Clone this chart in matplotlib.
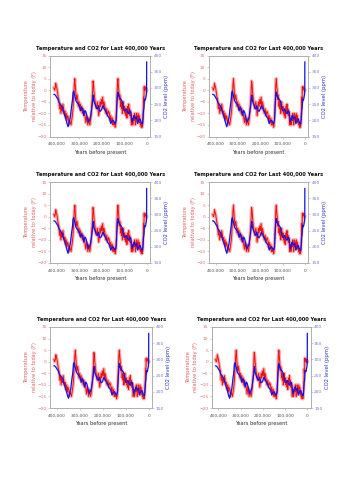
import matplotlib
matplotlib.use("Agg")
import matplotlib.pyplot as plt
from matplotlib.ticker import FuncFormatter

# Vostok-style temperature record (years before present, deg F relative to today)
temp_years = [0, 2000, 4000, 6000, 8000, 10000, 11000, 12000, 13000, 14000,
              15000, 17000, 18000, 20000, 22000, 24000, 26000, 28000, 30000, 32000,
              34000, 36000, 38000, 40000, 42000, 44000, 46000, 48000, 50000, 52000,
              54000, 56000, 58000, 60000, 62000, 64000, 66000, 68000, 70000, 72000,
              74000, 76000, 78000, 80000, 82000, 84000, 86000, 88000, 90000, 92000,
              94000, 96000, 98000, 100000, 102000, 104000, 106000, 108000, 110000, 112000,
              114000, 116000, 118000, 120000, 122000, 124000, 126000, 128000, 130000, 132000,
              134000, 136000, 138000, 140000, 142000, 145000, 148000, 150000, 153000, 156000,
              160000, 163000, 166000, 170000, 174000, 178000, 182000, 186000, 190000, 193000,
              196000, 199000, 202000, 205000, 208000, 211000, 214000, 217000, 220000, 224000,
              228000, 232000, 235000, 237000, 239000, 241000, 244000, 247000, 250000, 253000,
              256000, 259000, 262000, 265000, 268000, 271000, 274000, 277000, 280000, 283000,
              286000, 289000, 292000, 295000, 298000, 301000, 304000, 307000, 310000, 313000,
              316000, 318000, 320000, 322000, 325000, 328000, 331000, 334000, 337000, 340000,
              343000, 346000, 349000, 352000, 355000, 358000, 361000, 364000, 367000, 370000,
              373000, 376000, 379000, 382000, 385000, 388000, 391000, 394000, 397000, 400000,
              403000, 405000, 407000, 410000, 413000]
temp_f = [0, -0.5, 1, 0.5, 1.5, 0, 1.5, -3, -5, -3,
          -8, -12, -15, -16, -15, -16, -14, -15, -13, -14,
          -11, -13, -10, -12, -14, -11, -10, -13, -15, -12,
          -10, -13, -11, -14, -15, -12, -14, -15, -12, -9,
          -11, -8, -10, -6, -9, -7, -10, -12, -9, -11,
          -8, -10, -7, -9, -8, -5, -7, -10, -6, -8,
          -5, -7, -3, -2, -4, 0, 2, 5, 3, -2,
          -8, -12, -15, -16, -14, -15, -13, -15, -12, -14,
          -11, -13, -10, -9, -11, -8, -10, -7, -5, -8,
          -3, -6, -4, -7, -5, -9, -11, -7, -5, -8,
          -6, -3, 0, 3, 4, -1, -6, -10, -13, -15,
          -14, -12, -15, -13, -11, -14, -12, -9, -11, -8,
          -10, -7, -9, -6, -8, -5, -7, -4, -2, -4,
          -1, 2, 5, 3, -2, -8, -11, -13, -15, -14,
          -13, -15, -12, -11, -13, -10, -12, -9, -10, -8,
          -6, -9, -7, -10, -6, -8, -4, -3, -1, 1,
          2, 3, 1, 0, 1]

# CO2 record (years before present, ppm)
co2_years = [0, 200, 1000, 2000, 5000, 7000, 10000, 11000, 12000, 14000,
             16000, 18000, 20000, 25000, 30000, 35000, 40000, 45000, 50000, 55000,
             60000, 65000, 70000, 75000, 80000, 85000, 90000, 95000, 100000, 105000,
             110000, 115000, 120000, 125000, 128000, 130000, 133000, 136000, 140000, 145000,
             150000, 155000, 160000, 165000, 170000, 175000, 180000, 185000, 190000, 195000,
             200000, 205000, 210000, 215000, 220000, 225000, 230000, 235000, 238000, 240000,
             243000, 247000, 250000, 255000, 260000, 265000, 270000, 275000, 280000, 285000,
             290000, 295000, 300000, 305000, 310000, 315000, 320000, 325000, 328000, 330000,
             335000, 340000, 345000, 350000, 355000, 360000, 365000, 370000, 375000, 380000,
             385000, 390000, 395000, 400000, 405000, 410000, 413000]
co2_ppm = [380, 290, 280, 277, 265, 262, 265, 250, 238, 230,
           205, 190, 188, 195, 205, 200, 190, 210, 205, 215,
           205, 195, 225, 230, 220, 225, 235, 230, 230, 245,
           260, 265, 270, 275, 287, 280, 240, 200, 190, 195,
           200, 198, 190, 205, 210, 215, 225, 230, 240, 245,
           235, 228, 230, 245, 235, 240, 250, 260, 278, 265,
           245, 225, 210, 200, 195, 210, 225, 230, 215, 235,
           240, 230, 245, 250, 255, 260, 275, 290, 285, 265,
           240, 210, 195, 180, 190, 205, 215, 225, 240, 245,
           250, 255, 265, 270, 276, 280, 280]

x_ticks = [400000, 300000, 200000, 100000, 0]

# axes rectangles [left, bottom, width, height] in figure fraction
panel_rects = [
    [0.142, 0.727, 0.283, 0.162], [0.592, 0.727, 0.281, 0.162],
    [0.142, 0.474, 0.283, 0.162], [0.592, 0.474, 0.281, 0.162],
    [0.142, 0.184, 0.289, 0.162], [0.600, 0.184, 0.280, 0.162],
]

TEMP_COLOR = "#ee1111"
BAND_COLOR = "#f7b0b0"
CO2_COLOR = "#1111ee"
GRID_GRAY = "#aaaaaa"


def plot_panel(fig, rect):
    ax = fig.add_axes(rect)
    ax.plot(temp_years, temp_f, color=BAND_COLOR, lw=2.4, zorder=1)
    ax.plot(temp_years, temp_f, color=TEMP_COLOR, lw=0.7, zorder=2)
    ax.set_xlim(430000, -15000)
    ax.set_ylim(-20, 15)
    ax.set_yticks(range(-20, 16, 5))
    ax.set_xticks(x_ticks)
    ax.xaxis.set_major_formatter(FuncFormatter(lambda v, p: f"{int(v):,}"))
    ax.tick_params(axis="y", colors=GRID_GRAY, labelcolor="#e07070", labelsize=3.2,
                   length=1.5, width=0.4, pad=1)
    ax.tick_params(axis="x", colors=GRID_GRAY, labelcolor="#555555", labelsize=3.2,
                   length=1.5, width=0.4, pad=2.5)
    ax.set_ylabel("Temperature\nrelative to today (F)", color="#e06060", fontsize=3.6,
                  labelpad=0.5, linespacing=1.7)
    ax.set_xlabel("Years before present", fontsize=3.7, color="#333333", labelpad=2.5)
    ax.set_title("Temperature and CO2 for Last 400,000 Years", fontsize=3.7,
                 fontweight="semibold", color="#111111", pad=4)
    for s in ax.spines.values():
        s.set_color(GRID_GRAY)
        s.set_linewidth(0.5)

    ax2 = ax.twinx()
    ax2.plot(co2_years, co2_ppm, color=CO2_COLOR, lw=0.9, zorder=3)
    ax2.set_ylim(150, 400)
    ax2.set_yticks(range(150, 401, 50))
    ax2.tick_params(axis="y", colors=GRID_GRAY, labelcolor="#7777dd", labelsize=3.2,
                    length=1.5, width=0.4, pad=1)
    ax2.set_ylabel("CO2 level (ppm)", color="#3333cc", fontsize=3.8, labelpad=1.5)
    for s in ax2.spines.values():
        s.set_color(GRID_GRAY)
        s.set_linewidth(0.5)
    return ax, ax2


fig = plt.figure(figsize=(3.53, 5.0), dpi=100)
for rect in panel_rects:
    plot_panel(fig, rect)

fig.savefig("out.png", dpi=100, facecolor="white")
